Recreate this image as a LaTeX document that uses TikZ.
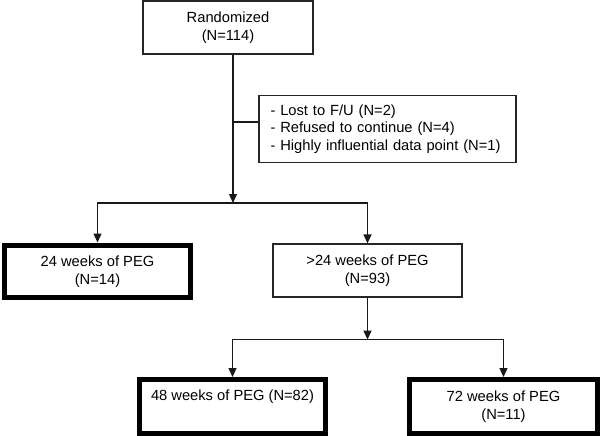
\documentclass[tikz,border=0pt]{standalone}
\usepackage{fontspec}
\setmainfont{Liberation Sans}
\usetikzlibrary{arrows.meta}
\begin{document}
\begin{tikzpicture}[x=1pt,y=-1pt,
  box/.style={draw=black!85, line width=1.2pt, rectangle, inner sep=0pt, align=center, font=\fontsize{14.7}{18}\selectfont},
  thickbox/.style={box, draw=black, line width=5pt},
  conn/.style={line width=1.2pt, draw=black!90},
  arr/.style={conn, -{Triangle[length=9pt,width=8pt]}}]
\useasboundingbox (0,0) rectangle (600,436);
\node[box, minimum width=170, minimum height=53] (rand) at (228,27.5) {Randomized\\(N=114)};
\node[box, minimum width=257, minimum height=67, align=left, font=\fontsize{14.7}{17.5}\selectfont,
      text width=234] (excl) at (387.5,129)
      {- Lost to F/U (N=2)\\- Refused to continue (N=4)\\- Highly influential data point (N=1)};
\node[thickbox, minimum width=186, minimum height=52.5] (b24) at (97.5,271.25) {24 weeks of PEG\\(N=14)};
\node[box, minimum width=189, minimum height=53] (bgt24) at (367.5,270.5) {>24 weeks of PEG\\(N=93)};
\node[thickbox, minimum width=186, minimum height=54] (b48) at (232.5,406.5) {48 weeks of PEG (N=82)\\\strut};
\node[thickbox, minimum width=188, minimum height=54] (b72) at (503.5,406.5) {72 weeks of PEG\\(N=11)};
\coordinate (t1) at (233,122);
\coordinate (t2) at (233,203);
\draw[conn] (rand.south -| t1) -- (t1) -- (t1 -| excl.west);
\draw[arr] (t1) -- (t2);
\draw[arr] (t2) -| (b24.north);
\draw[arr] (t2) -| (bgt24.north);
\path (bgt24.south) ++(0,42) coordinate (t3);
\draw[arr] (bgt24.south) -- (t3);
\draw[arr] (t3) -| (b48.north);
\draw[arr] (t3) -| (b72.north);
\end{tikzpicture}
\end{document}
